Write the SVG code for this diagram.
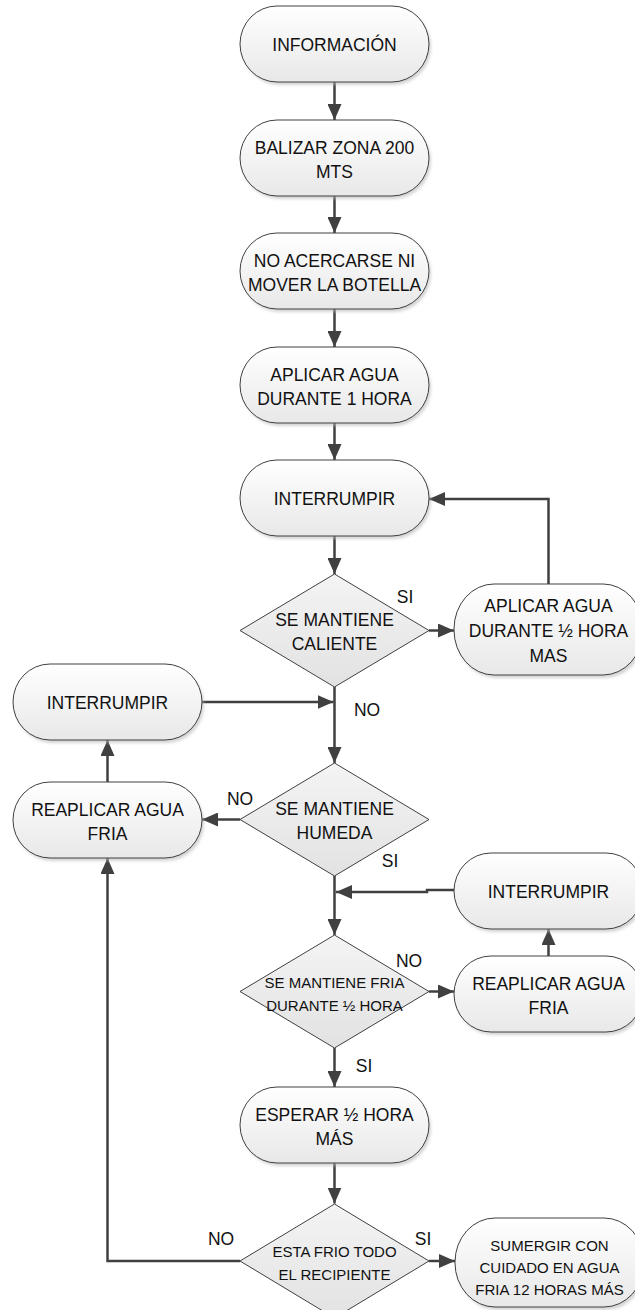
<svg xmlns="http://www.w3.org/2000/svg" width="635" height="1310" viewBox="0 0 635 1310">
<defs>
<linearGradient id="gN" x1="0" y1="0" x2="0" y2="1">
<stop offset="0" stop-color="#ffffff"/>
<stop offset="1" stop-color="#e8e8e8"/>
</linearGradient>
<linearGradient id="gD" x1="0" y1="0" x2="0" y2="1">
<stop offset="0" stop-color="#f4f4f4"/>
<stop offset="1" stop-color="#e2e2e2"/>
</linearGradient>
<filter id="sh" x="-10%" y="-10%" width="130%" height="140%">
<feGaussianBlur stdDeviation="1.5"/>
</filter>
<marker id="ah" markerUnits="userSpaceOnUse" markerWidth="16" markerHeight="14" refX="16" refY="7" orient="auto">
<path d="M0,0 L16,7 L0,14 z" fill="#404040"/>
</marker>
</defs>
<style>
.n{fill:url(#gN);stroke:#404040;stroke-width:1}
.d{fill:url(#gD);stroke:#404040;stroke-width:1}
.s{fill:#b8b8b8;opacity:0.6;filter:url(#sh)}
.t{font-family:"Liberation Sans",Arial,sans-serif;font-size:17.5px;fill:#111;text-anchor:middle}
.ts{font-size:15px}
.c{fill:none;stroke:#404040;stroke-width:2.5}
.ca{fill:none;stroke:#404040;stroke-width:2.5;marker-end:url(#ah)}
</style>

<g id="connectors">
<path class="ca" d="M334.5,82 V120"/>
<path class="ca" d="M334.5,196 V233"/>
<path class="ca" d="M334.5,309 V347"/>
<path class="ca" d="M334.5,423 V460"/>
<path class="ca" d="M334.5,536 V574"/>
<path class="ca" d="M429,630.5 H454"/>
<path class="ca" d="M548.5,584 V499 H429"/>
<path class="ca" d="M334.5,687 V763"/>
<path class="ca" d="M202,702 H333.5"/>
<path class="ca" d="M240,819.5 H202"/>
<path class="ca" d="M107.5,782 V740"/>
<path class="ca" d="M334.5,876 V935"/>
<path class="ca" d="M454,890 H427 V892 H336"/>
<path class="ca" d="M429,991.5 H454"/>
<path class="ca" d="M548.5,956 V929"/>
<path class="ca" d="M334.5,1048 V1087"/>
<path class="ca" d="M334.5,1163 V1203.5"/>
<path class="ca" d="M240,1261 H107.5 V858"/>
<path class="ca" d="M429,1261 H455"/>
</g>

<g id="n1">
<rect class="s" x="242" y="9" width="189" height="76" rx="37" ry="38"/>
<rect class="n" x="240" y="6" width="189" height="76" rx="37" ry="38"/>
<text class="t" x="334.5" y="51">INFORMACIÓN</text>
</g>
<g id="n2">
<rect class="s" x="242" y="123" width="189" height="76" rx="37" ry="38"/>
<rect class="n" x="240" y="120" width="189" height="76" rx="37" ry="38"/>
<text class="t" x="334.5" y="154">BALIZAR ZONA 200</text>
<text class="t" x="334.5" y="178">MTS</text>
</g>
<g id="n3">
<rect class="s" x="242" y="236" width="189" height="76" rx="37" ry="38"/>
<rect class="n" x="240" y="233" width="189" height="76" rx="37" ry="38"/>
<text class="t" x="334.5" y="267">NO ACERCARSE NI</text>
<text class="t" x="334.5" y="291">MOVER LA BOTELLA</text>
</g>
<g id="n4">
<rect class="s" x="242" y="350" width="189" height="76" rx="37" ry="38"/>
<rect class="n" x="240" y="347" width="189" height="76" rx="37" ry="38"/>
<text class="t" x="334.5" y="381">APLICAR AGUA</text>
<text class="t" x="334.5" y="405">DURANTE 1 HORA</text>
</g>
<g id="n5">
<rect class="s" x="242" y="463" width="189" height="76" rx="37" ry="38"/>
<rect class="n" x="240" y="460" width="189" height="76" rx="37" ry="38"/>
<text class="t" x="334.5" y="505">INTERRUMPIR</text>
</g>
<g id="d1">
<polygon class="d" points="334.5,574 429,630.5 334.5,687 240,630.5"/>
<text class="t" x="334.5" y="626">SE MANTIENE</text>
<text class="t" x="334.5" y="650">CALIENTE</text>
<text class="t" x="405" y="603">SI</text>
<text class="t" x="367" y="716">NO</text>
</g>
<g id="r1">
<rect class="s" x="456" y="587" width="189" height="91" rx="40" ry="45"/>
<rect class="n" x="454" y="584" width="189" height="91" rx="40" ry="45"/>
<text class="t" x="548.5" y="612">APLICAR AGUA</text>
<text class="t" x="548.5" y="637">DURANTE ½ HORA</text>
<text class="t" x="548.5" y="662">MAS</text>
</g>
<g id="l1">
<rect class="s" x="15" y="667" width="189" height="76" rx="37" ry="38"/>
<rect class="n" x="13" y="664" width="189" height="76" rx="37" ry="38"/>
<text class="t" x="107.5" y="709">INTERRUMPIR</text>
</g>
<g id="d2">
<polygon class="d" points="334.5,763 429,819.5 334.5,876 240,819.5"/>
<text class="t" x="334.5" y="815">SE MANTIENE</text>
<text class="t" x="334.5" y="839">HUMEDA</text>
<text class="t" x="240" y="805">NO</text>
<text class="t" x="390" y="867">SI</text>
</g>
<g id="l2">
<rect class="s" x="15" y="785" width="189" height="76" rx="37" ry="38"/>
<rect class="n" x="13" y="782" width="189" height="76" rx="37" ry="38"/>
<text class="t" x="107.5" y="816">REAPLICAR AGUA</text>
<text class="t" x="107.5" y="840">FRIA</text>
</g>
<g id="r2">
<rect class="s" x="456" y="856" width="189" height="76" rx="37" ry="38"/>
<rect class="n" x="454" y="853" width="189" height="76" rx="37" ry="38"/>
<text class="t" x="548.5" y="898">INTERRUMPIR</text>
</g>
<g id="d3">
<polygon class="d" points="334.5,935 429,991.5 334.5,1048 240,991.5"/>
<text class="t ts" x="334.5" y="988">SE MANTIENE FRIA</text>
<text class="t ts" x="334.5" y="1011">DURANTE ½ HORA</text>
<text class="t" x="409" y="967">NO</text>
<text class="t" x="364" y="1072">SI</text>
</g>
<g id="r3">
<rect class="s" x="456" y="959" width="189" height="76" rx="37" ry="38"/>
<rect class="n" x="454" y="956" width="189" height="76" rx="37" ry="38"/>
<text class="t" x="548.5" y="990">REAPLICAR AGUA</text>
<text class="t" x="548.5" y="1014">FRIA</text>
</g>
<g id="n6">
<rect class="s" x="242" y="1090" width="189" height="76" rx="37" ry="38"/>
<rect class="n" x="240" y="1087" width="189" height="76" rx="37" ry="38"/>
<text class="t" x="334.5" y="1121">ESPERAR ½ HORA</text>
<text class="t" x="334.5" y="1145">MÁS</text>
</g>
<g id="d4">
<polygon class="d" points="334.5,1204 429,1261 334.5,1318 240,1261"/>
<text class="t ts" x="334.5" y="1257">ESTA FRIO TODO</text>
<text class="t ts" x="334.5" y="1280">EL RECIPIENTE</text>
<text class="t" x="221" y="1245">NO</text>
<text class="t" x="423" y="1245">SI</text>
</g>
<g id="r4">
<rect class="s" x="457" y="1221" width="189" height="89" rx="40" ry="44"/>
<rect class="n" x="455" y="1218" width="189" height="89" rx="40" ry="44"/>
<text class="t ts" x="549.5" y="1251">SUMERGIR CON</text>
<text class="t ts" x="549.5" y="1273">CUIDADO EN AGUA</text>
<text class="t ts" x="549.5" y="1295">FRIA 12 HORAS MÁS</text>
</g>
</svg>
